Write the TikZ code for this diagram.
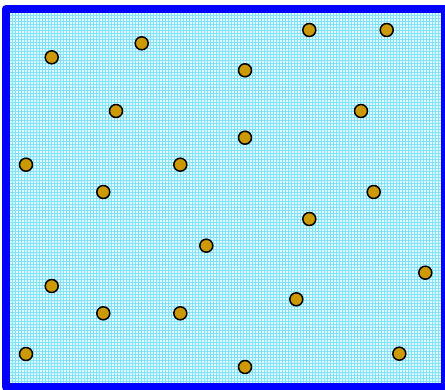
\documentclass[tikz,border=0pt]{standalone}
\usepackage{tikz}
\usetikzlibrary{patterns}
\definecolor{ballgold}{RGB}{204,153,0}
\definecolor{tankbg}{RGB}{222,249,255}
\definecolor{tankgrid}{RGB}{130,226,248}
\tikzset{
  every picture/.style={line join=round, line cap=round},
  ball/.style={circle,draw=black,line width=1.5pt,fill=ballgold,minimum size=13pt,inner sep=0pt},
  wall/.style={draw=blue,line width=8pt,line cap=rect},
}

\begin{document}
\begin{tikzpicture}[x=1pt,y=-1pt]
\useasboundingbox (0,0) rectangle (445,390);
\fill[tankbg](10,13) rectangle (441,383);
\fill[pattern=grid,pattern color=tankgrid](10,13) rectangle (441,383);
\draw[wall](6,9) rectangle (445,387);
\foreach \x/\y [count=\i] in {51.7/57.3,141.7/43.3,309.3/30,386.7/30,245/70.3,
  116/111,361/111,245/137.7,26/164.7,180.3/164.7,103.3/192,373.7/192,
  309.3/219,206.3/245.7,425.3/272.7,51.7/286,296.3/299.3,103.3/313.3,
  180.3/313.3,26/354,399.3/353.7,245/367}
  \node[ball](p\i) at (\x,\y){};
\end{tikzpicture}
\end{document}
